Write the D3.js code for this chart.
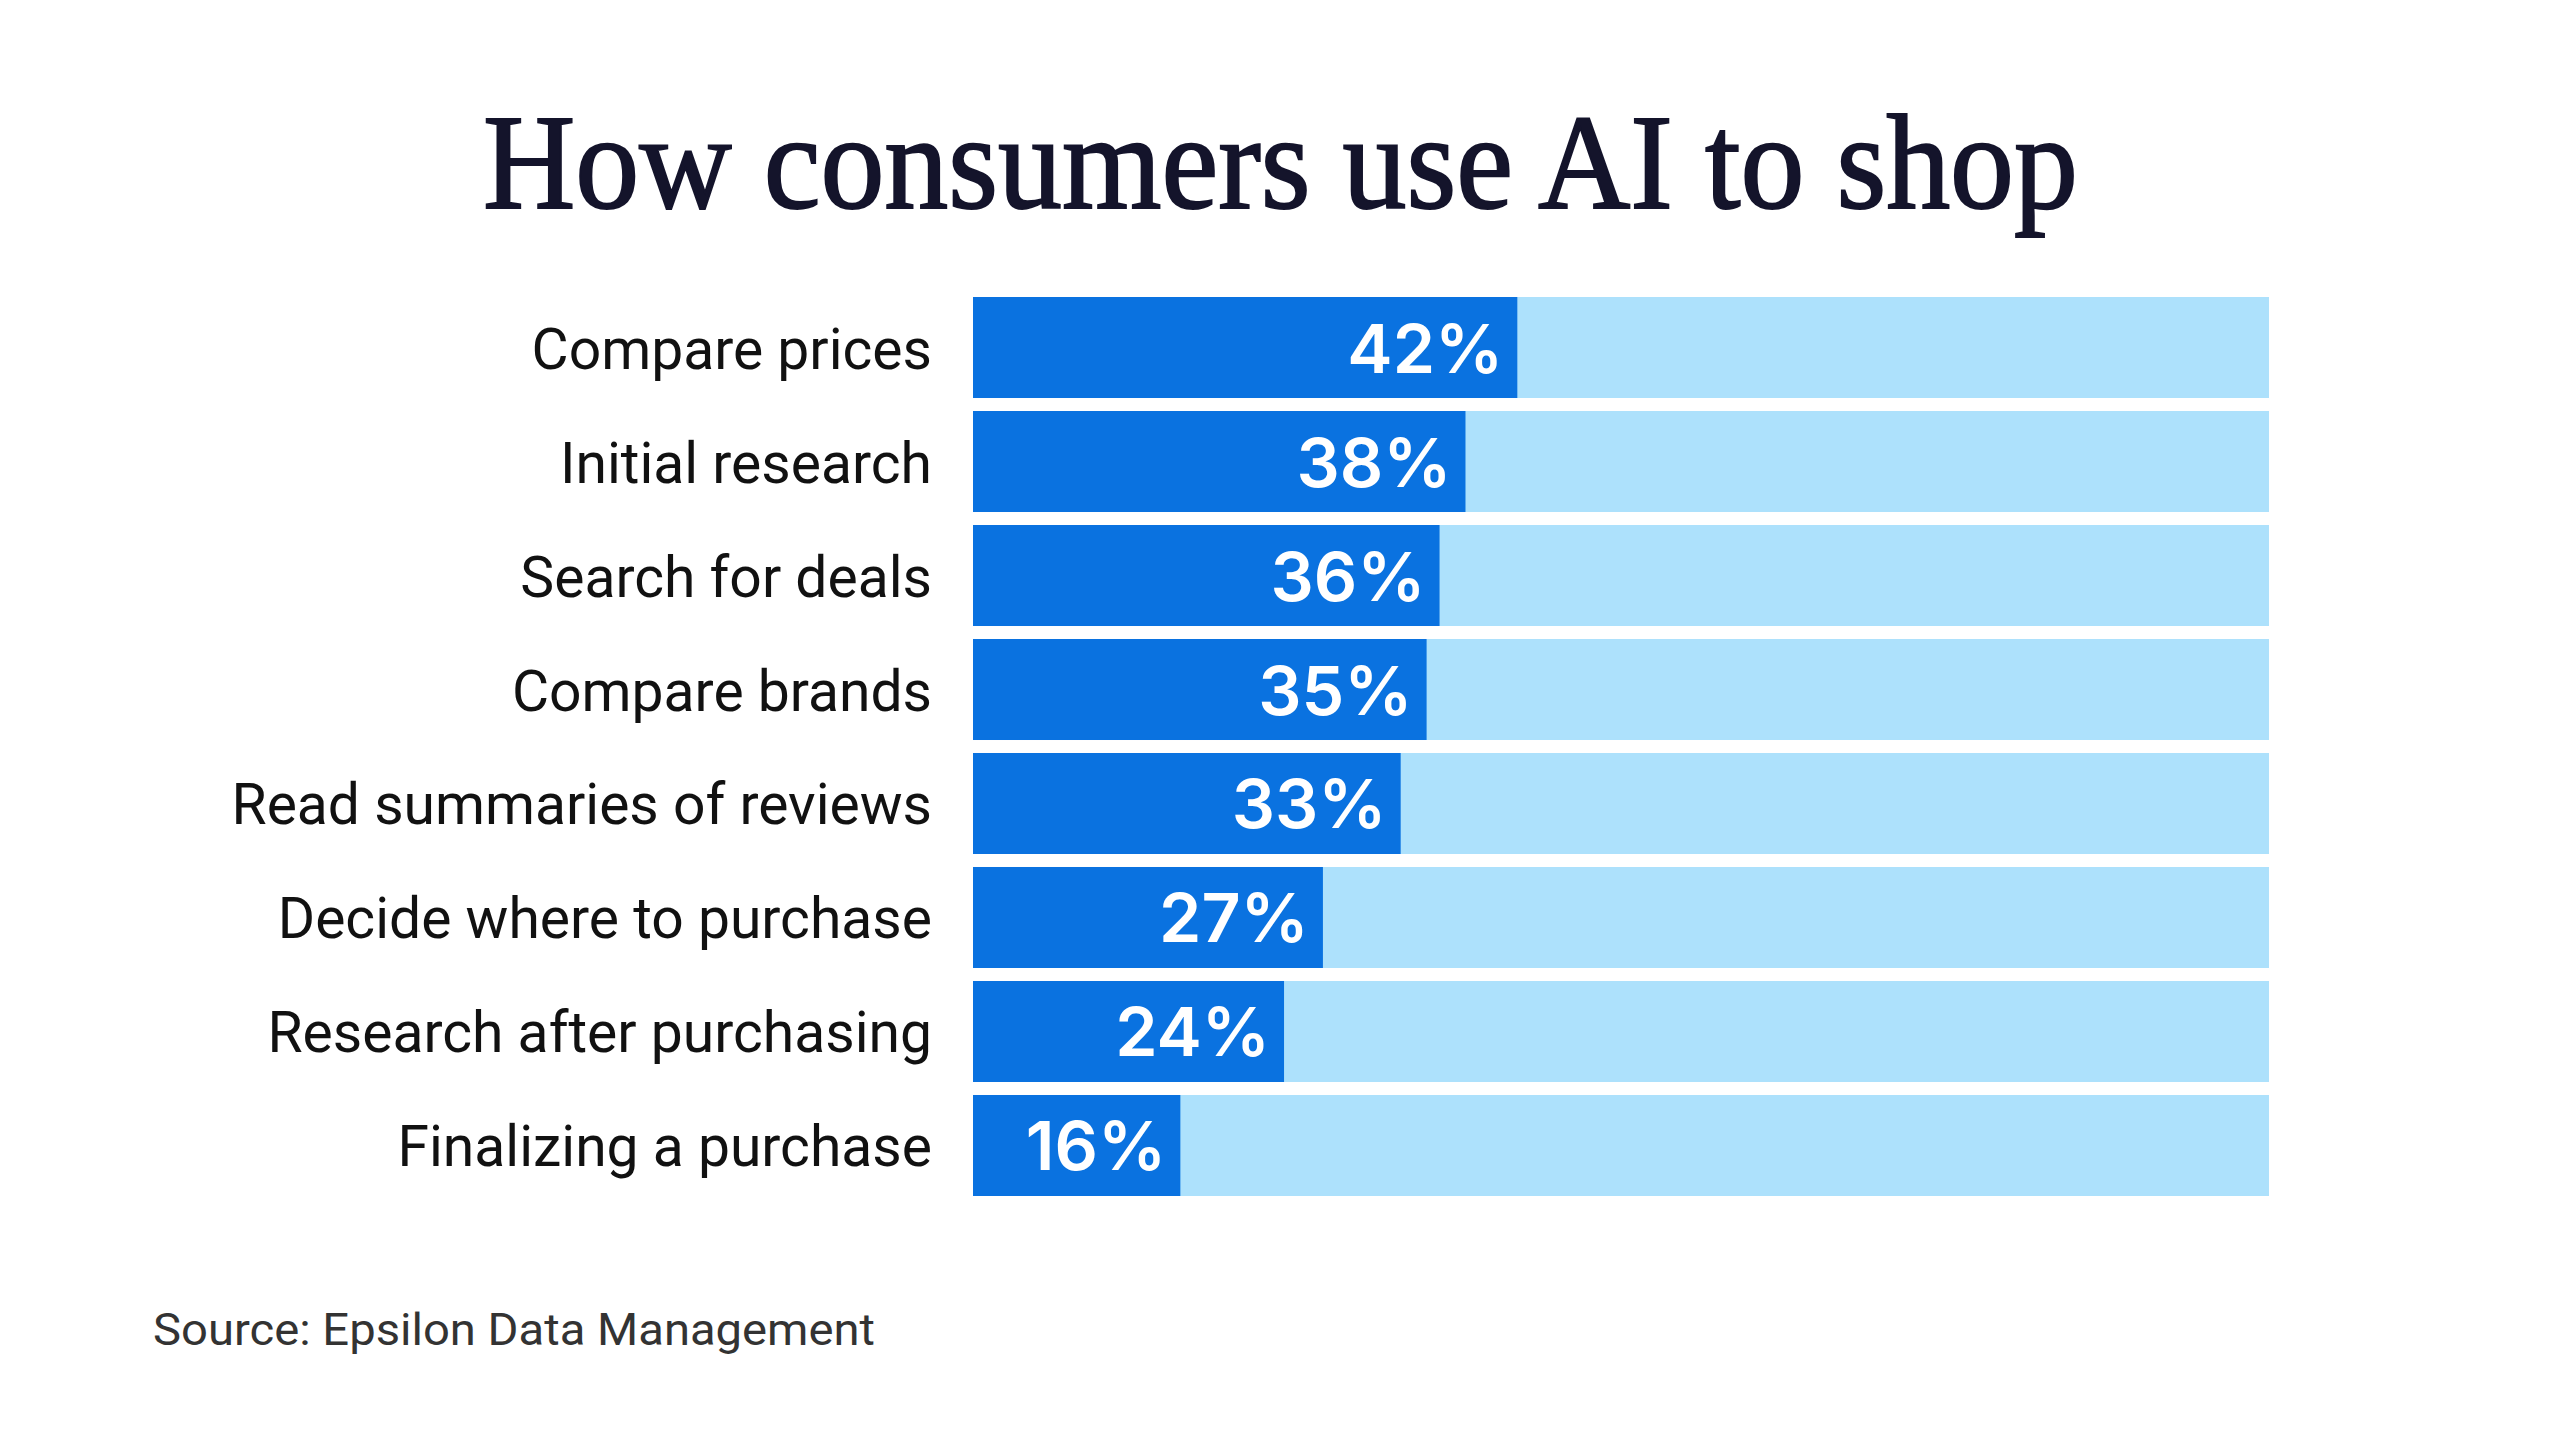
<!DOCTYPE html>
<html>
<head>
<meta charset="utf-8">
<script src="https://cdn.jsdelivr.net/npm/d3@7"></script>
<style>
  html, body { margin: 0; padding: 0; background: #fff; }
</style>
</head>
<body>
<div id="chart"></div>
<script>
// chart data
const categories = [
  "Compare prices",
  "Initial research",
  "Search for deals",
  "Compare brands",
  "Read summaries of reviews",
  "Decide where to purchase",
  "Research after purchasing",
  "Finalizing a purchase"
];
const values = [42, 38, 36, 35, 33, 27, 24, 16];
const titleText = "How consumers use AI to shop";
const sourceText = "Source: Epsilon Data Management";

const width = 2560, height = 1440;
const darkBlue = "#0a72e0", lightBlue = "#ade1fc";

const svg = d3.select("#chart")
  .append("svg")
  .attr("width", width)
  .attr("height", height);

svg.append("rect")
  .attr("width", width)
  .attr("height", height)
  .attr("fill", "#fff");

// title (thin stroke to get a medium weight)
svg.append("text")
  .attr("x", 483)
  .attr("y", 208)
  .attr("textLength", 1595)
  .attr("lengthAdjust", "spacingAndGlyphs")
  .style("font-family", "'Liberation Serif', serif")
  .style("font-size", "136px")
  .attr("fill", "#14142b")
  .attr("stroke", "#14142b")
  .attr("stroke-width", 2)
  .text(titleText);

const x = d3.scaleLinear()
  .domain([0, 100])
  .range([973, 2269]);

const y = d3.scaleBand()
  .domain(categories)
  .range([297, 1196])
  .paddingInner(0.114)
  .paddingOuter(0);

const rows = svg.append("g")
  .selectAll("g")
  .data(categories.map((c, i) => ({ cat: c, val: values[i] })))
  .enter()
  .append("g");

// background track (100%)
rows.append("rect")
  .attr("x", x(0))
  .attr("y", d => y(d.cat))
  .attr("width", x(100) - x(0))
  .attr("height", y.bandwidth())
  .attr("fill", lightBlue);

// value bar
rows.append("rect")
  .attr("x", x(0))
  .attr("y", d => y(d.cat))
  .attr("width", d => x(d.val) - x(0))
  .attr("height", y.bandwidth())
  .attr("fill", darkBlue);

// value labels, inside bar end
rows.append("text")
  .attr("x", d => x(d.val) - 14)
  .attr("y", d => y(d.cat) + y.bandwidth() / 2 + 25)
  .attr("text-anchor", "end")
  .style("font-family", "Inter, 'Noto Sans', sans-serif")
  .style("font-weight", "600")
  .style("font-size", "68px")
  .attr("fill", "#fff")
  .text(d => d.val + "%");

// category labels
rows.append("text")
  .attr("x", 932)
  .attr("y", d => y(d.cat) + y.bandwidth() / 2 + 21)
  .attr("text-anchor", "end")
  .style("font-family", "Roboto, sans-serif")
  .style("font-size", "57px")
  .attr("fill", "#111")
  .text(d => d.cat);

// source
svg.append("text")
  .attr("x", 153)
  .attr("y", 1345)
  .attr("textLength", 722)
  .attr("lengthAdjust", "spacingAndGlyphs")
  .style("font-family", "Roboto, sans-serif")
  .style("font-size", "45px")
  .attr("fill", "#333")
  .text(sourceText);
</script>
</body>
</html>
